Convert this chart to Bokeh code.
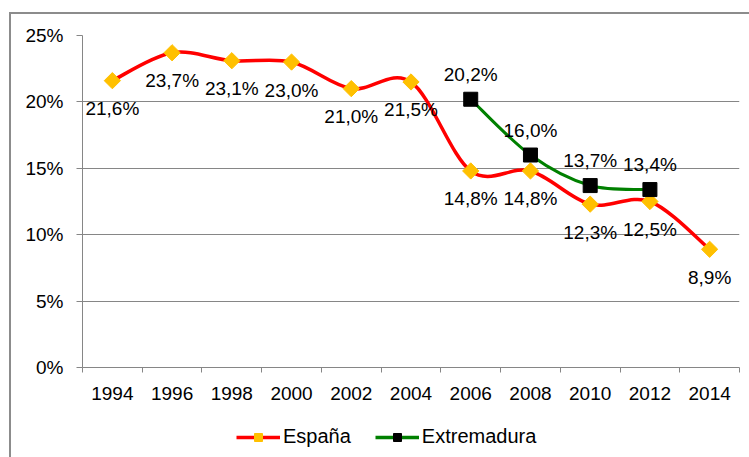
import numpy as np
from bokeh.plotting import figure
from bokeh.layouts import column
from bokeh.models import (ColumnDataSource, FixedTicker, PrintfTickFormatter, Legend,
                          LegendItem, Range1d)
from bokeh.core.properties import value
from bokeh.embed import file_html
from bokeh.resources import INLINE

years = ["1994", "1996", "1998", "2000", "2002", "2004", "2006", "2008", "2010", "2012", "2014"]
espana = [21.6, 23.7, 23.1, 23.0, 21.0, 21.5, 14.8, 14.8, 12.3, 12.5, 8.9]
extrem_years = ["2006", "2008", "2010", "2012"]
extremadura = [20.2, 16.0, 13.7, 13.4]
y_ticks = [0, 5, 10, 15, 20, 25]
series_names = ["España", "Extremadura"]

FONT = "Liberation Sans"
RED = "#FF0000"
YELLOW = "#FFC000"
GREEN = "#008000"
GRAY = "#868686"

pos = {y: i + 1 for i, y in enumerate(years)}


def smooth_segments(xv, yv):
    """Bezier control points (Catmull-Rom style, like a spreadsheet's smoothed line)."""
    n = len(xv)
    d = dict(x0=[], y0=[], x1=[], y1=[], cx0=[], cy0=[], cx1=[], cy1=[])
    for i in range(n - 1):
        p0 = (xv[i - 1], yv[i - 1]) if i > 0 else (xv[i], yv[i])
        p1 = (xv[i], yv[i])
        p2 = (xv[i + 1], yv[i + 1])
        p3 = (xv[i + 2], yv[i + 2]) if i + 2 < n else (xv[i + 1], yv[i + 1])
        d["x0"].append(p1[0]); d["y0"].append(p1[1])
        d["x1"].append(p2[0]); d["y1"].append(p2[1])
        d["cx0"].append(p1[0] + (p2[0] - p0[0]) / 6); d["cy0"].append(p1[1] + (p2[1] - p0[1]) / 6)
        d["cx1"].append(p2[0] - (p3[0] - p1[0]) / 6); d["cy1"].append(p2[1] - (p3[1] - p1[1]) / 6)
    return ColumnDataSource(d)


def fmt(v):
    return f"{v:.1f}".replace(".", ",") + "%"


ex = [pos[y] for y in years]
xx = [pos[y] for y in extrem_years]
src_e = ColumnDataSource(dict(x=ex, y=espana, lab=[fmt(v) for v in espana]))
src_x = ColumnDataSource(dict(x=xx, y=extremadura, lab=[fmt(v) for v in extremadura]))

p = figure(frame_width=657, frame_height=332, output_backend="svg", toolbar_location=None,
           x_range=Range1d(0.5, len(years) + 0.5), y_range=Range1d(0, 25),
           min_border_left=71, min_border_right=10, min_border_top=21, min_border_bottom=40)
p.outline_line_color = None
p.background_fill_color = "white"
p.border_fill_color = "white"

# axes
p.xaxis.ticker = FixedTicker(ticks=ex, minor_ticks=[i + 0.5 for i in range(len(years) + 1)])
p.xaxis.major_label_overrides = {pos[y]: y for y in years}
p.xaxis.major_tick_out = 0
p.xaxis.major_tick_in = 0
p.xaxis.minor_tick_out = 5
p.xaxis.minor_tick_in = 0
p.xaxis.minor_tick_line_color = GRAY
p.xaxis.major_label_standoff = 14
p.yaxis.ticker = FixedTicker(ticks=y_ticks)
p.yaxis.formatter = PrintfTickFormatter(format="%d%%")
p.yaxis.major_tick_out = 6
p.yaxis.major_tick_in = 0
p.yaxis.minor_tick_line_color = None
p.yaxis.major_label_standoff = 13
for ax in (p.xaxis, p.yaxis):
    ax.axis_line_color = GRAY
    ax.major_tick_line_color = GRAY
    ax.major_label_text_font = FONT
    ax.major_label_text_font_size = "19px"
    ax.major_label_text_color = "black"
p.xgrid.grid_line_color = None
p.ygrid.ticker = FixedTicker(ticks=y_ticks)
p.ygrid.grid_line_color = GRAY

# series
p.bezier(x0="x0", y0="y0", x1="x1", y1="y1", cx0="cx0", cy0="cy0", cx1="cx1", cy1="cy1",
         source=smooth_segments(ex, espana), line_color=RED, line_width=3.5)
p.scatter("x", "y", source=src_e, marker="square", angle=np.pi / 4, size=11.5,
          fill_color=YELLOW, line_color=YELLOW)
p.bezier(x0="x0", y0="y0", x1="x1", y1="y1", cx0="cx0", cy0="cy0", cx1="cx1", cy1="cy1",
         source=smooth_segments(xx, extremadura), line_color=GREEN, line_width=3)
p.scatter("x", "y", source=src_x, marker="square", size=14,
          fill_color="black", line_color="black")

p.text("x", "y", text="lab", source=src_e, y_offset=28, text_align="center", text_baseline="middle",
       text_font=value(FONT), text_font_size="19px", text_color="black")
p.text("x", "y", text="lab", source=src_x, y_offset=-25, text_align="center", text_baseline="middle",
       text_font=value(FONT), text_font_size="19px", text_color="black")

# legend strip (own small figure, so the legend sits inside a frame); its renderers
# carry the series but lie outside this strip's ranges, so only the legend shows
q = figure(width=738, height=50, output_backend="svg", toolbar_location=None,
           x_range=Range1d(1000, 1001), y_range=Range1d(1000, 1001), min_border=0)
q.axis.visible = False
q.grid.visible = False
q.outline_line_color = None
q.border_fill_color = "white"
q.background_fill_color = "white"
e_line = q.line(x=ex, y=espana, line_color=RED, line_width=3.5)
e_pt = q.scatter(x=ex, y=espana, marker="square", angle=np.pi / 4, size=11.5,
                 fill_color=YELLOW, line_color=YELLOW)
x_line = q.line(x=xx, y=extremadura, line_color=GREEN, line_width=3.5)
x_pt = q.scatter(x=xx, y=extremadura, marker="square", size=13, fill_color="black", line_color="black")
legend = Legend(items=[LegendItem(label=series_names[0], renderers=[e_line, e_pt]),
                       LegendItem(label=series_names[1], renderers=[x_line, x_pt])],
                orientation="horizontal", location=(154, 9))
legend.label_text_font = FONT
legend.label_text_font_size = "20px"
legend.label_text_color = "black"
legend.glyph_width = 44
legend.glyph_height = 20
legend.label_height = 20
legend.spacing = 24
legend.label_standoff = 3
legend.border_line_color = None
legend.background_fill_alpha = 0
legend.padding = 0
legend.margin = 0
q.add_layout(legend, "center")

page = column(p, q, spacing=0,
              styles={"margin-left": "9px", "margin-top": "12px",
                      "border-left": "2px solid #8c8c8c", "border-top": "2px solid #8c8c8c"})

open("out.html", "w").write(file_html(page, INLINE))
